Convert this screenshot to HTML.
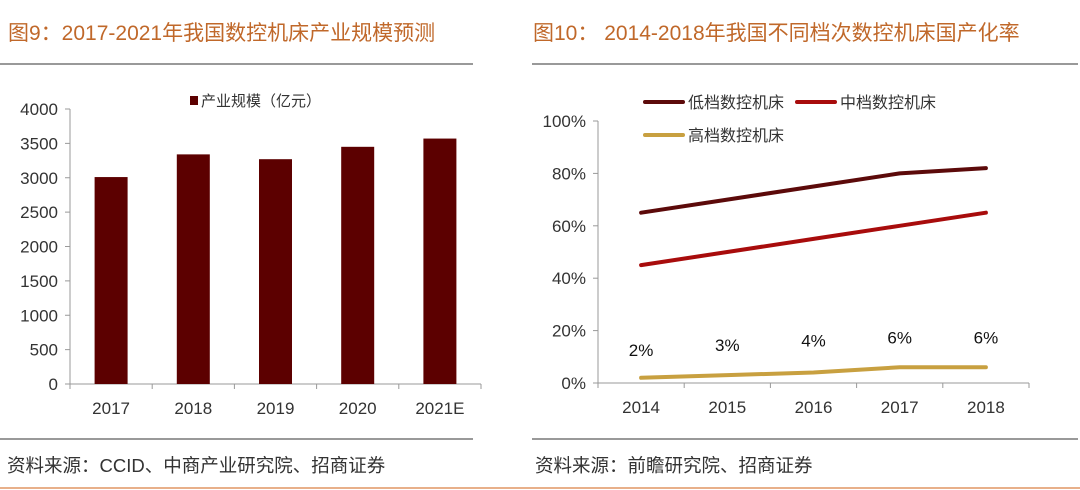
<!DOCTYPE html>
<html><head><meta charset="utf-8">
<style>
body{margin:0;width:1080px;height:490px;background:#fff;overflow:hidden;font-family:"Liberation Sans","Noto Sans CJK SC",sans-serif;}
svg{position:absolute;left:0;top:0}
</style></head>
<body>
<svg width="1080" height="490" id="s">
<text x="8" y="40" font-size="21" fill="#c0682a">图9：2017-2021年我国数控机床产业规模预测</text>
<text x="533" y="40" font-size="21" fill="#c0682a">图10： 2014-2018年我国不同档次数控机床国产化率</text>
<line x1="0" y1="64" x2="473" y2="64" stroke="#999" stroke-width="2"/>
<line x1="532" y1="64" x2="1078" y2="64" stroke="#999" stroke-width="2"/>
<line x1="0" y1="439" x2="473" y2="439" stroke="#333" stroke-width="1"/>
<line x1="532" y1="439" x2="1078" y2="439" stroke="#333" stroke-width="1"/>
<text x="7" y="472" font-size="18.5" fill="#333">资料来源：CCID、中商产业研究院、招商证券</text>
<text x="535" y="472" font-size="18.5" fill="#333">资料来源：前瞻研究院、招商证券</text>
<line x1="0" y1="488" x2="1080" y2="488" stroke="#e8b08a" stroke-width="2"/>
<g id="left"></g>
<g id="right"></g>
</svg>
<script>
const barCats=["2017","2018","2019","2020","2021E"];
const barVals=[3010,3340,3270,3450,3570];
const barTicks=[0,500,1000,1500,2000,2500,3000,3500,4000];
const lineCats=["2014","2015","2016","2017","2018"];
const lowVals=[65,70,75,80,82];
const midVals=[45,50,55,60,65];
const highVals=[2,3,4,6,6];
const pctTicks=[0,20,40,60,80,100];
const NS="http://www.w3.org/2000/svg";
function mk(p,t,a,txt){const e=document.createElementNS(NS,t);for(const k in a)e.setAttribute(k,a[k]);if(txt!==undefined)e.textContent=txt;p.appendChild(e);return e;}
const L=document.getElementById('left');
const x0=70,x1=481,y0=384,yTop=109;
const by=v=>y0-(v/4000)*(y0-yTop);
const step=(x1-x0)/barCats.length;
const bx=i=>x0+step*(i+0.5);
let e=mk(L,'line',{x1:x0,y1:yTop,x2:x0,y2:y0,stroke:'#999'});

e=mk(L,'line',{x1:x0,y1:y0,x2:x1,y2:y0,stroke:'#999'});

barTicks.forEach(t=>{
 mk(L,'line',{x1:x0-5,y1:by(t),x2:x0,y2:by(t),stroke:'#999'});
 e=mk(L,'text',{x:x0-12,y:by(t)+6,'font-size':17,fill:'#333','text-anchor':'end'},t);
 
});
for(let i=0;i<=barCats.length;i++)mk(L,'line',{x1:x0+step*i,y1:y0,x2:x0+step*i,y2:y0+5,stroke:'#999'});
barCats.forEach((c,i)=>{
 e=mk(L,'rect',{x:bx(i)-16.5,y:by(barVals[i]),width:33,height:y0-by(barVals[i]),fill:'#5c0000'});
 
 e=mk(L,'text',{x:bx(i),y:414,'font-size':17,fill:'#333','text-anchor':'middle'},c);
 
});
e=mk(L,'rect',{x:190,y:96,width:8,height:9,fill:'#5c0000'});

e=mk(L,'text',{x:201,y:106,'font-size':15,fill:'#333'},'产业规模（亿元）');

const R=document.getElementById('right');
const rx0=598,rx1=1029,ry0=383,ryT=121;
const ry=v=>ry0-(v/100)*(ry0-ryT);
const rstep=(rx1-rx0)/lineCats.length;
const rx=i=>rx0+rstep*(i+0.5);
e=mk(R,'line',{x1:rx0,y1:ryT,x2:rx0,y2:ry0,stroke:'#999'});

e=mk(R,'line',{x1:rx0,y1:ry0,x2:rx1,y2:ry0,stroke:'#999'});

pctTicks.forEach(t=>{
 mk(R,'line',{x1:rx0-5,y1:ry(t),x2:rx0,y2:ry(t),stroke:'#999'});
 e=mk(R,'text',{x:rx0-12,y:ry(t)+6,'font-size':17,fill:'#333','text-anchor':'end'},t+'%');
 
});
for(let i=0;i<=lineCats.length;i++)mk(R,'line',{x1:rx0+rstep*i,y1:ry0,x2:rx0+rstep*i,y2:ry0+5,stroke:'#999'});
lineCats.forEach((c,i)=>{
 e=mk(R,'text',{x:rx(i),y:413,'font-size':17,fill:'#333','text-anchor':'middle'},c);
 
});
const series=[[lowVals,'#5c0a0a','low'],[midVals,'#a80c0c','mid'],[highVals,'#c8a040','high']];
series.forEach(([vals,col,nm])=>{
 const pts=vals.map((v,i)=>rx(i)+','+ry(v)).join(' ');
 e=mk(R,'polyline',{points:pts,fill:'none',stroke:col,'stroke-width':4,'stroke-linecap':'round','stroke-linejoin':'round'});
 
});
highVals.forEach((v,i)=>{
 e=mk(R,'text',{x:rx(i),y:ry(v)-22-(v>=6?2:(v-2)*2),'font-size':17,fill:'#111','text-anchor':'middle'},v+'%');
 
});
const leg=[['低档数控机床','#5c0a0a',638,102],['中档数控机床','#a80c0c',790,102],['高档数控机床','#c8a040',638,135]];
leg.forEach(([t,c,x,y])=>{
 e=mk(R,'line',{x1:x+7,y1:y,x2:x+45,y2:y,stroke:c,'stroke-width':4,'stroke-linecap':'round'});
 
 e=mk(R,'text',{x:x+50,y:y+6,'font-size':16,fill:'#333'},t);
 
});
</script>
</body></html>
